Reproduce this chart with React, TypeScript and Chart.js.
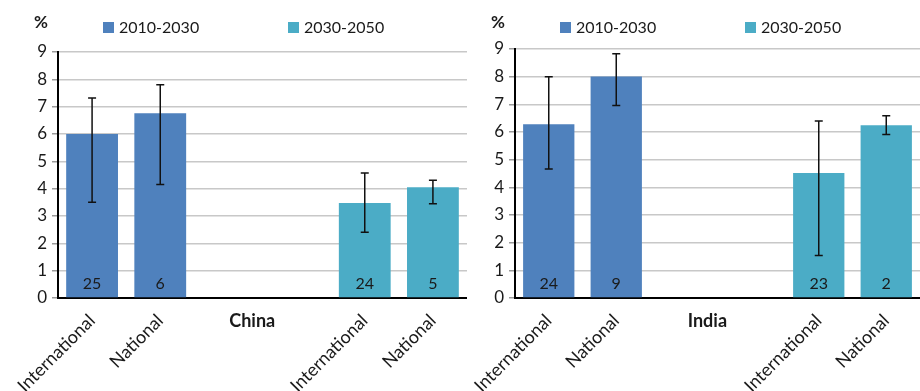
import { useEffect, useRef } from "react";
import { Chart, registerables } from "chart.js";

Chart.register(...registerables);

// Category slots: the first period fills the two left slots, the second period the two right ones
const categories = ["International", "National", "", "", "International", "National"];
const seriesNames = ["2010-2030", "2030-2050"];
const seriesColors = ["#4F81BD", "#4BACC6"];
const nearSlots = [0, 1];
const farSlots = [4, 5];
const yMin = 0;
const yMax = 9;
const yStep = 1;

// China: average growth (%) with low/high range, and number of studies
const chinaNear = [6.0, 6.76];
const chinaNearLow = [3.5, 4.15];
const chinaNearHigh = [7.32, 7.8];
const chinaFar = [3.48, 4.05];
const chinaFarLow = [2.41, 3.45];
const chinaFarHigh = [4.57, 4.31];
const chinaCounts = [25, 6, 24, 5];

// India
const indiaNear = [6.28, 8.01];
const indiaNearLow = [4.66, 6.96];
const indiaNearHigh = [8.0, 8.83];
const indiaFar = [4.52, 6.24];
const indiaFarLow = [1.54, 5.91];
const indiaFarHigh = [6.4, 6.59];
const indiaCounts = [24, 9, 23, 2];

const FONT = 'Lato, "Open Sans", "DejaVu Sans", sans-serif';
const TEXT = "#1a1a1a";

function place(values: number[], slots: number[]): (number | null)[] {
  const out: (number | null)[] = categories.map(() => null);
  slots.forEach((s, i) => (out[s] = values[i]));
  return out;
}

type PanelProps = {
  name: string;
  near: number[];
  nearLow: number[];
  nearHigh: number[];
  far: number[];
  farLow: number[];
  farHigh: number[];
  counts: number[];
  width: number;
  yAxisWidth: number;
  topPad: number;
};

function Panel(p: PanelProps) {
  const ref = useRef<HTMLCanvasElement | null>(null);

  useEffect(() => {
    if (!ref.current) return;
    const lows = [place(p.nearLow, nearSlots), place(p.farLow, farSlots)];
    const highs = [place(p.nearHigh, nearSlots), place(p.farHigh, farSlots)];

    const errorBars = {
      id: "errorBars",
      afterDatasetsDraw(chart: any) {
        const ctx = chart.ctx;
        const y = chart.scales.y;
        ctx.save();
        ctx.strokeStyle = "#111";
        ctx.lineWidth = 1.5;
        chart.data.datasets.forEach((ds: any, di: number) => {
          const meta = chart.getDatasetMeta(di);
          ds.data.forEach((v: number | null, i: number) => {
            if (v == null) return;
            const x = meta.data[i].x;
            const yl = y.getPixelForValue(lows[di][i]);
            const yh = y.getPixelForValue(highs[di][i]);
            ctx.beginPath();
            ctx.moveTo(x, yl);
            ctx.lineTo(x, yh);
            ctx.moveTo(x - 4, yl);
            ctx.lineTo(x + 4, yl);
            ctx.moveTo(x - 4, yh);
            ctx.lineTo(x + 4, yh);
            ctx.stroke();
          });
        });
        ctx.restore();
      },
    };

    const annotations = {
      id: "annotations",
      afterDatasetsDraw(chart: any) {
        const ctx = chart.ctx;
        const y = chart.scales.y;
        const x = chart.scales.x;
        const area = chart.chartArea;
        ctx.save();
        // study counts at the foot of each bar
        let k = 0;
        ctx.font = `16px ${FONT}`;
        ctx.fillStyle = TEXT;
        ctx.textAlign = "center";
        ctx.textBaseline = "middle";
        chart.data.datasets.forEach((ds: any, di: number) => {
          const meta = chart.getDatasetMeta(di);
          ds.data.forEach((v: number | null, i: number) => {
            if (v == null) return;
            ctx.fillText(String(p.counts[k++]), meta.data[i].x, y.bottom - 14);
          });
        });
        // country name under the empty middle slots
        ctx.font = `bold 18px ${FONT}`;
        ctx.fillText(p.name, x.getPixelForValue(2.35), area.bottom + 23);
        // unit and legend above the plot
        ctx.font = `bold 17px ${FONT}`;
        ctx.fillText("%", area.left - 17, 23);
        ctx.font = `16px ${FONT}`;
        ctx.textAlign = "left";
        seriesNames.forEach((s, i) => {
          const bx = area.left + 45 + i * 185;
          ctx.fillStyle = seriesColors[i];
          ctx.fillRect(bx, 22, 11, 11);
          ctx.fillStyle = TEXT;
          ctx.fillText(s, bx + 16, 28);
        });
        ctx.restore();
      },
    };

    const chart = new Chart(ref.current, {
      type: "bar",
      data: {
        labels: categories,
        datasets: [
          {
            label: seriesNames[0],
            data: place(p.near, nearSlots),
            backgroundColor: seriesColors[0],
            skipNull: true,
          } as any,
          {
            label: seriesNames[1],
            data: place(p.far, farSlots),
            backgroundColor: seriesColors[1],
            skipNull: true,
          } as any,
        ],
      },
      options: {
        responsive: false,
        animation: false,
        events: [],
        layout: { padding: { top: p.topPad, left: 0, right: 0, bottom: 0 } },
        datasets: { bar: { categoryPercentage: 1, barPercentage: 0.76 } },
        plugins: { legend: { display: false }, tooltip: { enabled: false } },
        scales: {
          x: {
            grid: { display: false },
            border: { display: true, color: "#000", width: 2 },
            ticks: {
              autoSkip: false,
              minRotation: 45,
              maxRotation: 45,
              padding: 4,
              color: TEXT,
              font: { family: FONT, size: 18 },
            },
            afterFit: (s: any) => {
              s.height = 93;
            },
          },
          y: {
            min: yMin,
            max: yMax,
            ticks: {
              stepSize: yStep,
              padding: 5,
              color: TEXT,
              font: { family: FONT, size: 17 },
            },
            grid: { color: "#c8c8c8", lineWidth: 1.5, tickLength: 6, tickColor: "#9a9a9a" },
            border: { display: true, color: "#000", width: 2 },
            afterFit: (s: any) => {
              s.width = p.yAxisWidth;
            },
          },
        },
      },
      plugins: [errorBars, annotations],
    } as any);
    return () => chart.destroy();
  }, []);

  return <canvas ref={ref} width={p.width} height={391} style={{ display: "block" }} />;
}

export default function App() {
  return (
    <div style={{ position: "absolute", left: 0, top: 0, width: 920, height: 391, display: "flex", background: "#fff" }}>
      <Panel
        name="China"
        near={chinaNear}
        nearLow={chinaNearLow}
        nearHigh={chinaNearHigh}
        far={chinaFar}
        farLow={chinaFarLow}
        farHigh={chinaFarHigh}
        counts={chinaCounts}
        width={467}
        yAxisWidth={58}
        topPad={52}
      />
      <Panel
        name="India"
        near={indiaNear}
        nearLow={indiaNearLow}
        nearHigh={indiaNearHigh}
        far={indiaFar}
        farLow={indiaFarLow}
        farHigh={indiaFarHigh}
        counts={indiaCounts}
        width={453}
        yAxisWidth={48}
        topPad={49}
      />
    </div>
  );
}
